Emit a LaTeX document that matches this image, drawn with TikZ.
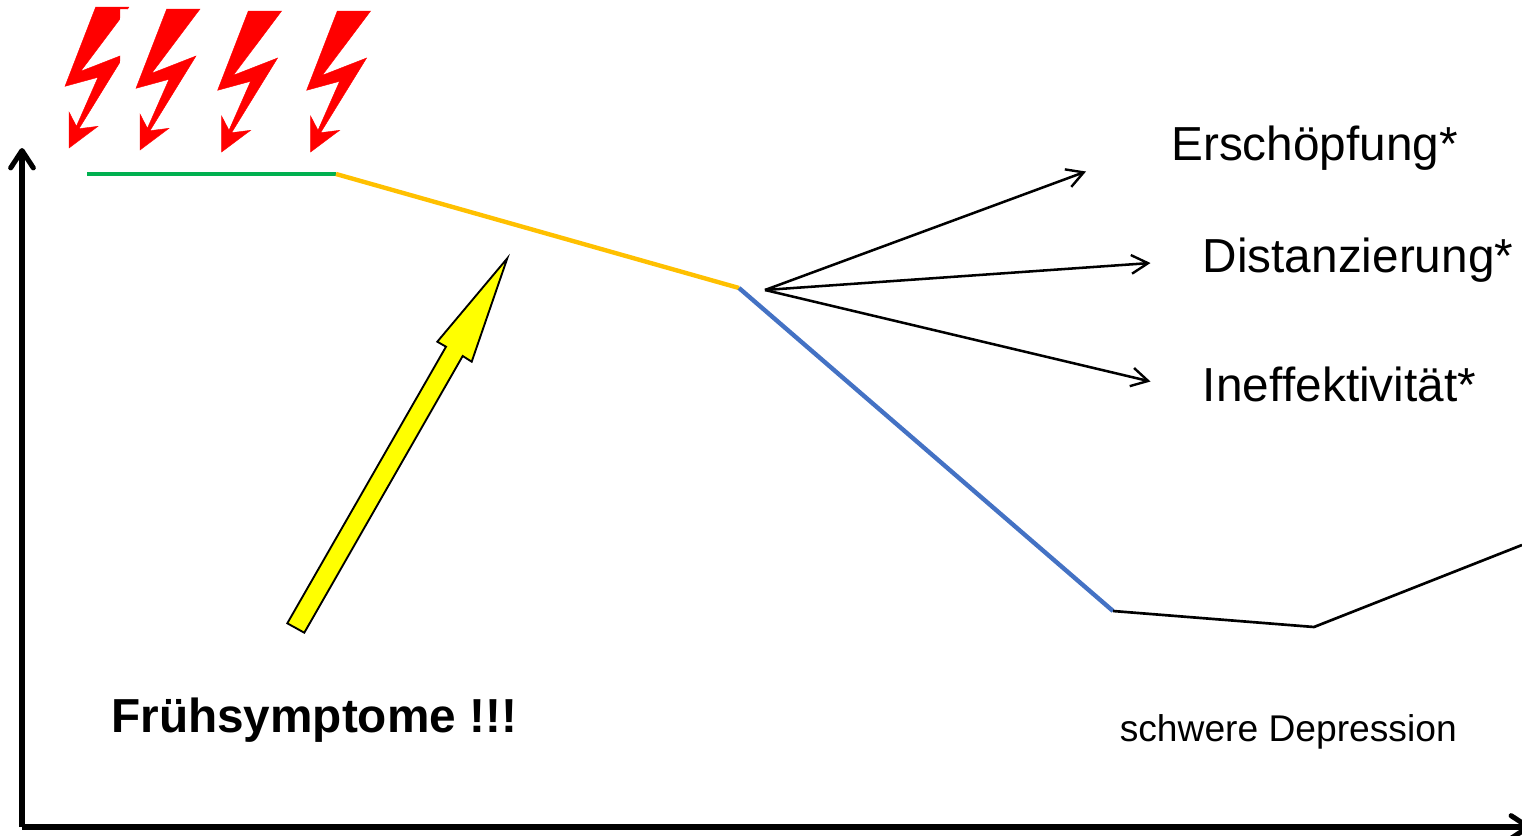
\documentclass[tikz,border=0pt]{standalone}
\usepackage{fontspec}
\setmainfont{Liberation Sans}
\usepackage{tikz}
\usetikzlibrary{arrows.meta}

\definecolor{kurvegreen}{HTML}{00B050}
\definecolor{kurveyellow}{HTML}{FFC000}
\definecolor{kurveblue}{HTML}{4472C4}
\definecolor{arrowyellow}{RGB}{255,255,0}
\definecolor{boltred}{RGB}{255,0,0}

\tikzset{
  label big/.style={anchor=base west,inner sep=0pt,font=\fontsize{35.8}{40}\selectfont},
  label small/.style={anchor=base west,inner sep=0pt,font=\fontsize{27.9}{32}\selectfont},
  axis/.style={line width=4.5pt,-{Straight Barb[length=13pt,width=17pt,line width=3.8pt,round]}},
  fan/.style={line width=1.9pt,-{Straight Barb[length=12.5pt,width=14pt,line width=1.8pt]}},
  curve/.style={line width=3.3pt},
  bolt/.pic={
    \filldraw[line width=0.3pt,line join=miter] (0,0) -- (33.3,0) -- (-15,64.3) -- (29.3,47) -- (-16.7,121.7)
      -- (2.3,119.3) -- (-26.7,141) -- (-26.7,105) -- (-19.3,119.3)
      -- (2.3,70.3) -- (-30.7,79.3) -- cycle;
  }
}

\begin{document}
\begin{tikzpicture}[x=0.75pt,y=-0.75pt]
  \useasboundingbox (0,0) rectangle (1522,836);

  % flashes
  \begin{scope}
    \clip (50,0) -- (129,0) -- (129,9) -- (120,9) -- (120,150) -- (50,150) -- cycle;
    \pic[boltred] at (95.7,7) {bolt};
  \end{scope}
  \foreach \x/\y in {166.7/9,248.3/11,337.3/11}
    \pic[boltred] at (\x,\y) {bolt};

  % axes
  \coordinate (O)  at (22,827);
  \coordinate (Yt) at (22,148);
  \coordinate (Xt) at (1531,827);
  \draw[axis] (O) -- (Yt);
  \draw[axis] (O) -- (Xt);

  % curve
  \coordinate (P0) at (87,174);
  \coordinate (P1) at (336,174);
  \coordinate (P2) at (739,288);
  \coordinate (P3) at (1113,611);
  \coordinate (P4) at (1314,627);
  \coordinate (P5) at (1522,545);
  \draw[curve,kurvegreen]  (P0) -- (P1);
  \draw[curve,kurveyellow] (P1) -- (P2);
  \draw[curve,kurveblue]   (P2) -- (P3);
  \draw[line width=2pt,line join=round] (P3) -- (P4) -- (P5);

  % yellow arrow
  \draw[fill=arrowyellow,line width=1.4pt,miter limit=20]
    (287.3,623.3) -- (304.3,632.7) -- (462.7,356) -- (471.7,361.7)
    -- (507.3,258.3) -- (437.3,341.7) -- (446,346.7) -- cycle;

  % fan
  \coordinate (F)  at (765,290);
  \coordinate (F1) at (1086,171.5);
  \coordinate (F2) at (1150.5,263);
  \coordinate (F3) at (1150.5,381.5);
  \draw[fan] (F) -- (F1);
  \draw[fan] (F) -- (F2);
  \draw[fan] (F) -- (F3);

  % labels
  \node[label big] (ersch) at (1171,160) {Erschöpfung*};
  \node[label big] (dist)  at (1202.5,272) {Distanzierung*};
  \node[label big] (ineff) at (1202.5,401) {Inef\kern0ptfektivität*};
  \node[label big,font=\fontsize{35.8}{40}\selectfont\bfseries] (frueh) at (111,732) {Frühsymptome !!!};
  \node[label small] (schwer) at (1119.5,741) {schwere Depression};
\end{tikzpicture}
\end{document}
